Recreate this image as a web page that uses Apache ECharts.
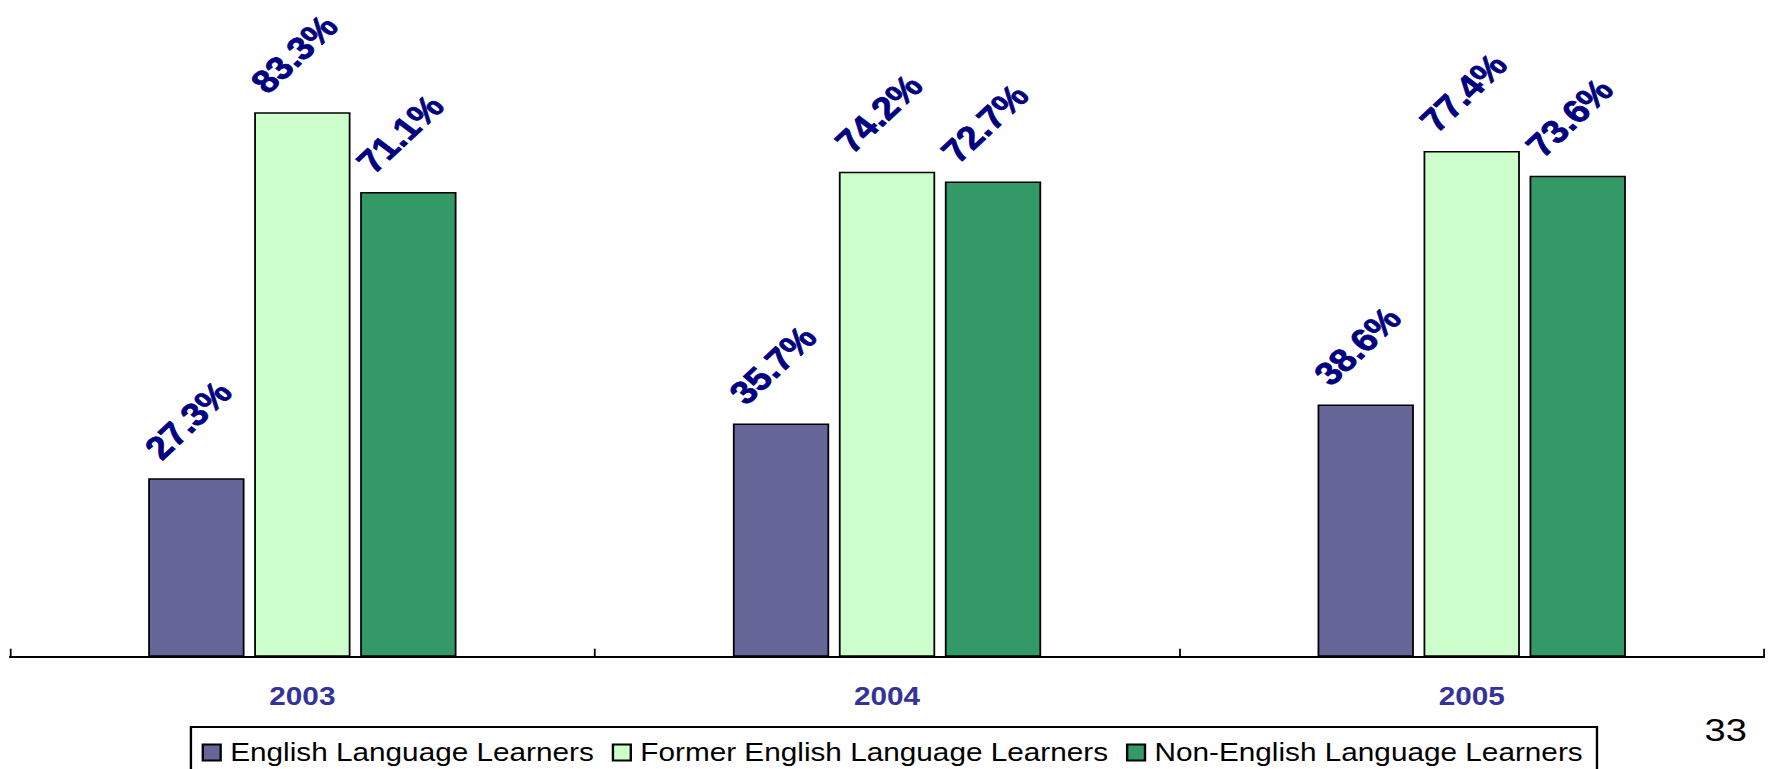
<!DOCTYPE html>
<html>
<head>
<meta charset="utf-8">
<script src="https://cdn.jsdelivr.net/npm/echarts@6/dist/echarts.min.js"></script>
<style>
html,body{margin:0;padding:0;background:#fff;overflow:hidden;width:1770px;height:769px;}
#wrap{width:1770px;height:769px;overflow:hidden;position:relative;}
#chart{width:1488px;height:769px;transform:scaleX(1.18952);transform-origin:0 0;}
</style>
</head>
<body>
<div id="wrap"><div id="chart"></div></div>
<script>
const categories = ['2003', '2004', '2005'];
const seriesNames = ['English Language Learners', 'Former English Language Learners', 'Non-English Language Learners'];
const ellValues = [27.3, 35.7, 38.6];
const formerEllValues = [83.3, 74.2, 77.4];
const nonEllValues = [71.1, 72.7, 73.6];
const pageNumber = '33';

const colors = ['#666699', '#CCFFCC', '#339966'];
const FONT = '"Liberation Sans", Arial, sans-serif';

const chart = echarts.init(document.getElementById('chart'), null, {renderer: 'svg'});

function mkSeries(name, data, color) {
  return {
    name: name,
    type: 'bar',
    data: data,
    barWidth: 81,
    barGap: '10%',
    itemStyle: {color: color, borderColor: '#000', borderWidth: 1.5},
    label: {
      show: true,
      position: [15, -14],
      rotate: 48,
      align: 'left',
      verticalAlign: 'bottom',
      color: '#000080',
      textBorderColor: '#000080',
      textBorderWidth: 0.8,
      fontFamily: FONT,
      fontWeight: 'bold',
      fontSize: 32,
      formatter: p => p.value.toFixed(1) + '%'
    }
  };
}

chart.setOption({
  animation: false,
  backgroundColor: '#fff',
  grid: {left: 8.4, right: 5, top: 3.2, bottom: 112.3, containLabel: false},
  xAxis: {
    type: 'category',
    data: categories,
    axisLine: {lineStyle: {color: '#000', width: 2}},
    axisTick: {show: true, inside: true, length: 8, lineStyle: {color: '#000', width: 1.5}},
    axisLabel: {color: '#333399', fontFamily: FONT, fontWeight: 'bold', fontSize: 25, margin: 27}
  },
  yAxis: {
    type: 'value', min: 0, max: 100, show: false,
    splitLine: {show: false}
  },
  legend: {
    data: seriesNames,
    left: 160.5,
    top: 727,
    orient: 'horizontal',
    icon: 'rect',
    itemWidth: 15,
    itemHeight: 16,
    itemGap: 15,
    padding: [13, 12, 13, 9],
    borderColor: '#000',
    borderWidth: 2,
    textStyle: {color: '#000', fontFamily: FONT, fontSize: 25, padding: [0, 0, 0, 3], textBorderWidth: 0}
  },
  graphic: [{
    type: 'text',
    left: 1433,
    top: 714,
    style: {text: pageNumber, fill: '#000', font: '32px "Liberation Sans", Arial, sans-serif'}
  }],
  series: [
    mkSeries(seriesNames[0], ellValues, colors[0]),
    mkSeries(seriesNames[1], formerEllValues, colors[1]),
    mkSeries(seriesNames[2], nonEllValues, colors[2])
  ]
});
</script>
</body>
</html>
